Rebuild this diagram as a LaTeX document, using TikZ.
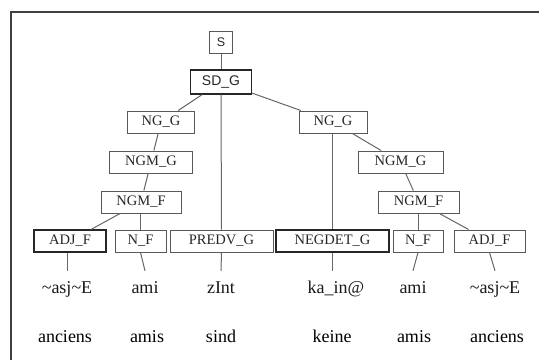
\documentclass[tikz,border=0pt]{standalone}
\usepackage{fontspec}
\setmainfont{Liberation Serif}
\newfontfamily\boxsans{Liberation Sans}
\begin{document}
\begin{tikzpicture}[x=1pt,y=-1pt,
  cat/.style={draw=black!65,line width=1pt,fill=white,inner sep=0pt,minimum height=22pt,
    font=\fontsize{14.5}{16}\selectfont,text=black!85},
  dcat/.style={cat,draw=black!85,line width=1.1pt},
  word/.style={inner sep=0pt,anchor=base,text height=22pt,font=\fontsize{18}{20}\selectfont,text=black!90},
  gloss/.style={inner sep=0pt,anchor=base,font=\fontsize{18}{20}\selectfont,text=black},
  edge/.style={draw=black!60,line width=1pt}]
\useasboundingbox (0,0) rectangle (539,360);
\draw[black!75,line width=1.2pt] (539,12) -- (11,12) -- (11,360);
% categories
\node[cat,minimum width=23pt,font=\boxsans\fontsize{12.5}{14}\selectfont] (S) at (221,42) {S};
\node[dcat,minimum width=61pt,minimum height=24pt,font=\boxsans\fontsize{14}{16}\selectfont] (SD) at (221,82) {SD\_G};
\node[cat,minimum width=67pt] (NGl) at (161,122) {NG\_G};
\node[cat,minimum width=83pt] (NGMGl) at (151,162) {NGM\_G};
\node[cat,minimum width=80pt] (NGMFl) at (141,202) {NGM\_F};
\node[dcat,minimum width=72pt] (ADJl) at (70,241) {ADJ\_F};
\node[cat,minimum width=51pt] (NFl) at (140.5,241) {N\_F};
\node[cat,minimum width=103pt] (PRED) at (221.5,241) {PREDV\_G};
\node[dcat,minimum width=113pt] (NEG) at (332.5,241) {NEGDET\_G};
\node[cat,minimum width=50pt] (NFr) at (418,241) {N\_F};
\node[cat,minimum width=71pt] (ADJr) at (489.5,241) {ADJ\_F};
\node[cat,minimum width=81pt] (NGMFr) at (418.5,202) {NGM\_F};
\node[cat,minimum width=68pt] (NGr) at (333,122) {NG\_G};
\node[cat,minimum width=85pt] (NGMGr) at (400.5,162) {NGM\_G};
% phonetic words
\node[word] (w1) at (67,293) {\textasciitilde asj\textasciitilde E};
\node[word] (w2) at (145,293) {ami};
\node[word] (w3) at (221,293) {zInt};
\node[word] (w4) at (336,293) {ka\_in@};
\node[word] (w5) at (413,293) {ami};
\node[word] (w6) at (495,293) {\textasciitilde asj\textasciitilde E};
% glosses
\node[gloss] (g1) at (65,342) {anciens};
\node[gloss] (g2) at (147,342) {amis};
\node[gloss] (g3) at (221,342) {sind};
\node[gloss] (g4) at (332,342) {keine};
\node[gloss] (g5) at (414,342) {amis};
\node[gloss] (g6) at (497,342) {anciens};
% edges
\draw[edge] (S) -- (SD);
\draw[edge] (SD) -- (NGl);
\draw[edge] (SD.south) -- (PRED.north);
\draw[edge] (SD) -- (NGr);
\draw[edge] (NGl) -- (NGMGl);
\draw[edge] (NGMGl) -- (NGMFl);
\draw[edge] (NGMFl) -- (ADJl);
\draw[edge] (NGMFl.south -| NFl.north) -- (NFl.north);
\draw[edge] (NGr.south -| NEG.north) -- (NEG.north);
\draw[edge] (NGr) -- (NGMGr);
\draw[edge] (NGMGr) -- (NGMFr);
\draw[edge] (NGMFr.south -| NFr.north) -- (NFr.north);
\draw[edge] (NGMFr) -- (ADJr);
\draw[edge] (ADJl.south -| w1.north) -- (w1.north);
\draw[edge] (NFl.south) -- (w2.north);
\draw[edge] (PRED.south) -- (w3.north);
\draw[edge] (NEG.south) -- (w4.north -| NEG.south);
\draw[edge] (NFr.south) -- (w5.north);
\draw[edge] (ADJr.south) -- (w6.north);
\end{tikzpicture}
\end{document}
